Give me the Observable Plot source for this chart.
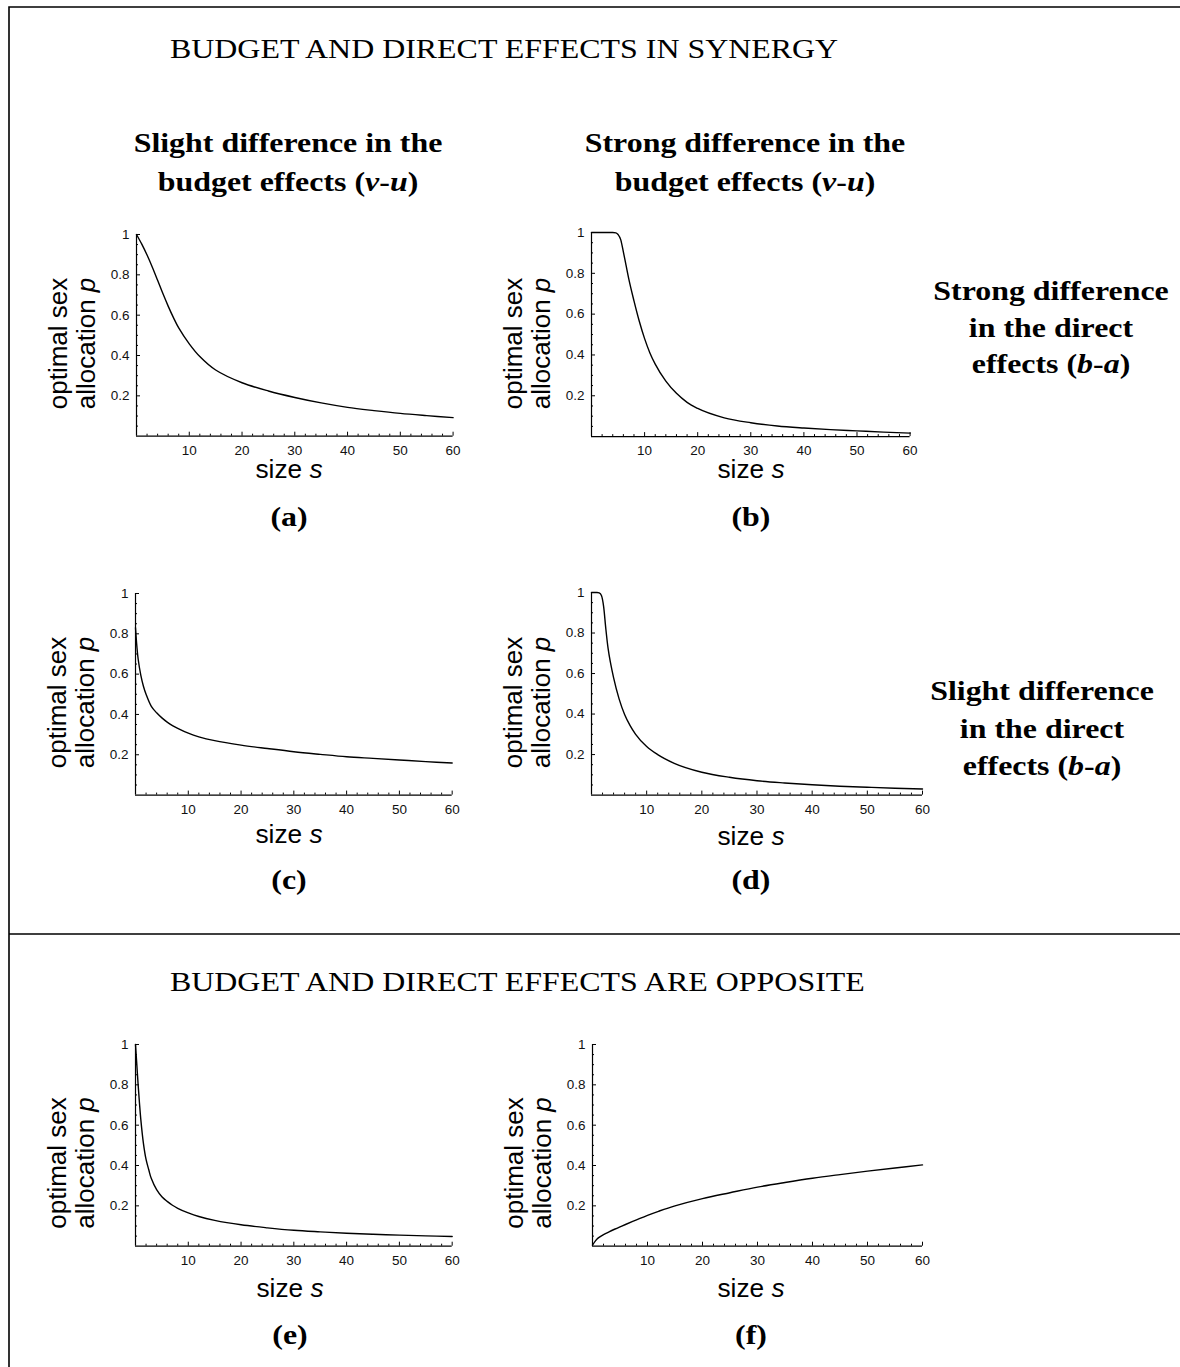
<!DOCTYPE html>
<html><head><meta charset="utf-8">
<script src="https://cdn.jsdelivr.net/npm/d3@7"></script>
<script src="https://cdn.jsdelivr.net/npm/@observablehq/plot@0.6"></script>
<style>
html,body{margin:0;padding:0;background:#fff;}
#page{position:relative;width:1180px;height:1367px;overflow:hidden;background:#fff;}
</style></head><body><div id="page"></div>
<script>
// ---------- data ----------
const sizeA  = [0,1,2,3,4,5,6,7,8,10,12,15,20,25,30,35,40,45,50,55,60];
const allocA = [1.0,0.952,0.898,0.838,0.773,0.707,0.645,0.588,0.537,0.458,0.395,0.328,0.265,0.224,0.192,0.165,0.143,0.127,0.113,0.102,0.092];

const sizeB  = [0,2,4,4.6,5,5.5,6,6.5,7,8,9,10,11,12,14,16,18,20,25,30,35,40,45,50,55,60];
const allocB = [1,1,1,0.998,0.99,0.965,0.905,0.84,0.775,0.665,0.565,0.48,0.41,0.355,0.272,0.212,0.168,0.138,0.092,0.068,0.052,0.042,0.034,0.028,0.022,0.017];

const sizeC  = [0,0.25,0.5,1,1.5,2,3,4,5,6,7,8,10,12,15,20,25,30,35,40,45,50,55,60];
const allocC = [0.83,0.74,0.675,0.595,0.54,0.50,0.44,0.408,0.383,0.362,0.345,0.331,0.307,0.289,0.27,0.248,0.231,0.215,0.202,0.19,0.182,0.174,0.166,0.159];

const sizeD  = [0,1,1.4,1.8,2.2,2.6,3,3.5,4,5,6,7,8,10,12,15,20,25,30,35,40,45,50,55,60];
const allocD = [1,1,0.998,0.985,0.93,0.82,0.725,0.645,0.58,0.475,0.398,0.343,0.30,0.24,0.20,0.157,0.113,0.088,0.071,0.06,0.051,0.044,0.039,0.034,0.03];

const sizeE  = [0,0.25,0.5,0.75,1,1.5,2,2.5,3,4,5,6,7,8,10,12,15,20,25,30,35,40,45,50,55,60];
const allocE = [1,0.9,0.8,0.71,0.63,0.51,0.43,0.38,0.335,0.28,0.245,0.222,0.203,0.188,0.165,0.147,0.128,0.106,0.091,0.079,0.071,0.064,0.059,0.055,0.051,0.048];

const sizeF  = [0,0.5,1,2,3,4,5,6,8,10,12,15,20,25,30,35,40,45,50,55,60];
const allocF = [0.005,0.025,0.04,0.057,0.071,0.084,0.096,0.1075,0.1305,0.153,0.173,0.20,0.236,0.265,0.293,0.316,0.337,0.355,0.372,0.388,0.403];

// ---------- ticks ----------
const xTickLabels = [10,20,30,40,50,60];
const xMinorTicks = [2,4,6,8,12,14,16,18,22,24,26,28,32,34,36,38,42,44,46,48,52,54,56,58];
const yTickLabels = [0.2,0.4,0.6,0.8,1];
const yMinorTicks = [0.05,0.1,0.15,0.25,0.3,0.35,0.45,0.5,0.55,0.65,0.7,0.75,0.85,0.9,0.95];

// ---------- texts ----------
const title1 = "BUDGET AND DIRECT EFFECTS IN SYNERGY";
const title2 = "BUDGET AND DIRECT EFFECTS ARE OPPOSITE";
const xLabel = ["size ", {i:"s"}];
const yLabel1 = "optimal sex";
const yLabel2 = ["allocation ", {i:"p"}];

const SERIF = "'Liberation Serif','Times New Roman',Times,serif";
const SANS  = "'Liberation Sans',Arial,Helvetica,sans-serif";

const page = d3.select("#page");
const ov = page.append("svg").attr("width",1180).attr("height",1367)
  .style("position","absolute").style("left","0px").style("top","0px");

ov.append("path").attr("d","M9,1367V7H1180M9,934H1180")
  .attr("fill","none").attr("stroke","#000").attr("stroke-width",1.6);

function addText(x, y, parts, {family=SERIF, bold=true, anchor="middle", size=28, sx=1.14, rotate=0}={}) {
  const t = ov.append("text")
    .attr("transform", `translate(${x},${y}) rotate(${rotate}) scale(${sx},1)`)
    .attr("text-anchor", anchor).attr("font-family", family)
    .attr("font-size", size).attr("font-weight", bold ? "bold" : "normal").attr("fill","#000");
  for (const p of (Array.isArray(parts) ? parts : [parts])) {
    if (typeof p === "string") t.append("tspan").text(p);
    else t.append("tspan").attr("font-style","italic").text(p.i);
  }
}

// titles
addText(170, 58, title1, {bold:false, anchor:"start"});
addText(170, 991, title2, {bold:false, anchor:"start"});
// column headers
addText(288, 152, "Slight difference in the");
addText(288, 191, ["budget effects (", {i:"v"}, "-", {i:"u"}, ")"]);
addText(745, 152, "Strong difference in the");
addText(745, 191, ["budget effects (", {i:"v"}, "-", {i:"u"}, ")"]);
// row labels
addText(1051, 300, "Strong difference");
addText(1051, 337, "in the direct");
addText(1051, 373, ["effects (", {i:"b"}, "-", {i:"a"}, ")"]);
addText(1042, 700, "Slight difference");
addText(1042, 738, "in the direct");
addText(1042, 775, ["effects (", {i:"b"}, "-", {i:"a"}, ")"]);

// ---------- panels ----------
const panels = [
  {s:sizeA, p:allocA, curve:"catmull-rom", L:135.7, T:233.6, R:452.3, B:435.3, tag:"(a)", labX:289, labY:478, tagY:526, yc:343.5},
  {s:sizeB, p:allocB, curve:"monotone-x",  L:590.7, T:231.7, R:909.3, B:435.8, tag:"(b)", labX:751, labY:478, tagY:526, yc:343.5},
  {s:sizeC, p:allocC, curve:"catmull-rom", L:135.0, T:592.7, R:451.7, B:794.3, tag:"(c)", labX:289, labY:843, tagY:889, yc:702.5},
  {s:sizeD, p:allocD, curve:"monotone-x",  L:590.7, T:591.7, R:921.7, B:794.3, tag:"(d)", labX:751, labY:845, tagY:889, yc:702.5},
  {s:sizeE, p:allocE, curve:"catmull-rom", L:135.3, T:1044,  R:452.0, B:1245.7, tag:"(e)", labX:290, labY:1297, tagY:1344, yc:1163},
  {s:sizeF, p:allocF, curve:"catmull-rom", L:591.7, T:1044,  R:921.7, B:1245.7, tag:"(f)", labX:751, labY:1297, tagY:1344, yc:1163}
];

const mL = 45, mR = 20, mT = 10, mB = 30;
for (const P of panels) {
  const pw = P.R - P.L, ph = P.B - P.T;
  const data = P.s.map((s, i) => ({s, p: P.p[i]}));
  const svg = Plot.plot({
    width: pw + mL + mR, height: ph + mT + mB,
    marginLeft: mL, marginRight: mR, marginTop: mT, marginBottom: mB,
    x: {domain: [0, 60]},
    y: {domain: [0, 1]},
    style: {fontFamily: SANS, fontSize: "13.5px", color: "#000", background: "transparent", overflow: "visible"},
    marks: [
      Plot.tickX(xMinorTicks, {x: d => d, insetTop: ph - 2, stroke: "#000"}),
      Plot.tickX(xTickLabels, {x: d => d, insetTop: ph - 4, stroke: "#000"}),
      Plot.tickY(yMinorTicks, {y: d => d, insetRight: pw - 2, stroke: "#000"}),
      Plot.tickY(yTickLabels, {y: d => d, insetRight: pw - 4, stroke: "#000"}),
      Plot.ruleY([0], {stroke: "#000", strokeWidth: 1.2}),
      Plot.ruleX([0], {stroke: "#000", strokeWidth: 1.2}),
      Plot.axisX({ticks: xTickLabels, tickSize: 0, tickPadding: 9, label: null, fontSize: 13.5, fill: "#111"}),
      Plot.axisY({ticks: yTickLabels, tickSize: 0, tickPadding: 7, label: null, fontSize: 13.5, fill: "#111",
                  tickFormat: d => String(+d.toFixed(1))}),
      Plot.line(data, {x: "s", y: "p", stroke: "#000", strokeWidth: 1.4, curve: P.curve})
    ]
  });
  svg.style.position = "absolute";
  svg.style.left = (P.L - mL) + "px";
  svg.style.top = (P.T - mT) + "px";
  svg.style.maxWidth = "none";
  document.getElementById("page").appendChild(svg);

  // axis labels and panel tag
  addText(P.labX, P.labY, xLabel, {family: SANS, bold: false, size: 25, sx: 1.05});
  addText(P.L - 69, P.yc, yLabel1, {family: SANS, bold: false, size: 26, sx: 1, rotate: -90});
  addText(P.L - 41, P.yc, yLabel2, {family: SANS, bold: false, size: 26, sx: 1, rotate: -90});
  addText(P.labX, P.tagY, P.tag);
}
</script>
</body></html>
